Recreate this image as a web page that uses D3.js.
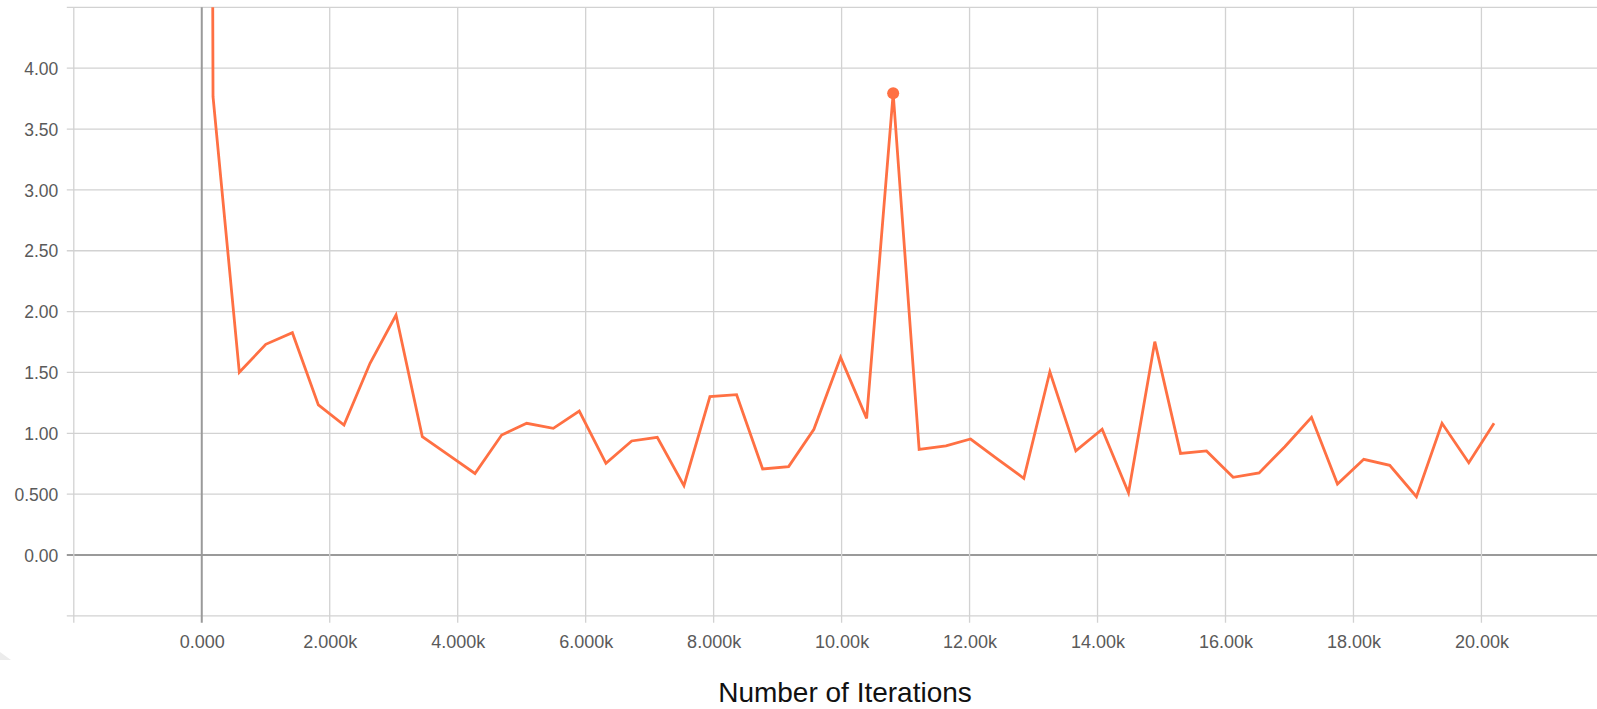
<!DOCTYPE html>
<html>
<head>
<meta charset="utf-8">
<script src="https://cdn.jsdelivr.net/npm/d3@7/dist/d3.min.js"></script>
<style>
  html, body { margin: 0; padding: 0; background: #fff; }
  svg { display: block; }
</style>
</head>
<body>
<svg id="chart" width="1597" height="709"></svg>
<script>
// ---- data ----
const steps = [150, 176, 587, 1000, 1416, 1822, 2223, 2630, 3036, 3447, 3860, 4270, 4687, 5078, 5494, 5900,
  6317, 6719, 7119, 7536, 7942, 8359, 8766, 9172, 9567, 9984, 10391, 10806, 11212, 11631, 12016, 12432,
  12848, 13255, 13661, 14072, 14484, 14895, 15297, 15703, 16119, 16525, 16927, 17344, 17750, 18161,
  18567, 18984, 19384, 19802, 20197];
const values = [8.0, 3.766, 1.501, 1.731, 1.827, 1.233, 1.068, 1.575, 1.972, 0.972, 0.82, 0.670, 0.986, 1.082, 1.041, 1.183,
  0.753, 0.937, 0.967, 0.570, 1.301, 1.317, 0.707, 0.726, 1.033, 1.624, 1.123, 3.794, 0.868, 0.897, 0.953, 0.79,
  0.630, 1.506, 0.855, 1.033, 0.512, 1.753, 0.835, 0.855, 0.638, 0.674, 0.890, 1.131, 0.583, 0.786,
  0.737, 0.479, 1.082, 0.758, 1.082];
const highlightStep = 10806;
const xTickValues = [-2000, 0, 2000, 4000, 6000, 8000, 10000, 12000, 14000, 16000, 18000, 20000, 22000];
const xTickLabels = ["", "0.000", "2.000k", "4.000k", "6.000k", "8.000k", "10.00k", "12.00k", "14.00k", "16.00k", "18.00k", "20.00k", ""];
const yTickValues = [-0.5, 0, 0.5, 1, 1.5, 2, 2.5, 3, 3.5, 4, 4.5];
const yTickLabels = ["", "0.00", "0.500", "1.00", "1.50", "2.00", "2.50", "3.00", "3.50", "4.00", ""];
const xTitle = "Number of Iterations";

// ---- layout ----
const svg = d3.select("#chart");
const pL = 73.8, pR = 1609.4, pT = 7.35, pB = 615.85;
const x = d3.scaleLinear().domain([-2000, 22000]).range([pL, pR]);
const y = d3.scaleLinear().domain([-0.5, 4.5]).range([pB, pT]);
const lineColor = "#ff7043";
const gridColor = "#d2d2d2";
const zeroColor = "#9a9a9a";
const font = "'Liberation Sans', Arial, Helvetica, sans-serif";

svg.append("rect").attr("width", 1597).attr("height", 709).attr("fill", "#fff");

// faint decoration bottom-left
svg.append("path").attr("d", "M0,652 L0,660 L11,660 Z").attr("fill", "#ececec");

// grid
const grid = svg.append("g");
grid.selectAll("line.h").data(yTickValues).join("line")
  .attr("x1", pL - 7).attr("x2", 1597)
  .attr("y1", d => y(d)).attr("y2", d => y(d))
  .attr("stroke", d => d === 0 ? zeroColor : gridColor)
  .attr("stroke-width", d => d === 0 ? 2 : 1.3);
grid.selectAll("line.v").data(xTickValues).join("line")
  .attr("x1", d => x(d)).attr("x2", d => x(d))
  .attr("y1", pT).attr("y2", pB + 7)
  .attr("stroke", d => d === 0 ? zeroColor : gridColor)
  .attr("stroke-width", d => d === 0 ? 2 : 1.3);

// axes labels via d3 axes
const xAxis = d3.axisBottom(x).tickValues(xTickValues)
  .tickFormat((d, i) => xTickLabels[i]).tickSize(0).tickPadding(0);
const gx = svg.append("g").attr("transform", `translate(0,${pB})`).call(xAxis);
gx.select(".domain").remove();
gx.selectAll("text").attr("y", 32).attr("dy", 0)
  .attr("font-family", font).attr("font-size", 18).attr("fill", "#5a5a5a");

const yAxis = d3.axisLeft(y).tickValues(yTickValues)
  .tickFormat((d, i) => yTickLabels[i]).tickSize(0).tickPadding(0);
const gy = svg.append("g").attr("transform", `translate(${pL},0)`).call(yAxis);
gy.select(".domain").remove();
gy.selectAll("text").attr("x", -15.5).attr("dy", "0.35em")
  .attr("font-family", font).attr("font-size", 17.5).attr("fill", "#5a5a5a");

// clip
svg.append("clipPath").attr("id", "plot-clip").append("rect")
  .attr("x", pL).attr("y", pT).attr("width", pR - pL).attr("height", pB - pT);

const data = steps.map((s, i) => ({ s, v: values[i] }));
const line = d3.line().x(d => x(d.s)).y(d => y(d.v));
svg.append("path").datum(data)
  .attr("clip-path", "url(#plot-clip)")
  .attr("d", line)
  .attr("fill", "none")
  .attr("stroke", lineColor)
  .attr("stroke-width", 2.8)
  .attr("stroke-linejoin", "miter")
  .attr("stroke-miterlimit", 4);

const hp = data.find(d => d.s === highlightStep);
svg.append("circle").attr("cx", x(hp.s)).attr("cy", y(hp.v)).attr("r", 6).attr("fill", lineColor);

// title
svg.append("text")
  .attr("x", 845).attr("y", 702)
  .attr("text-anchor", "middle")
  .attr("font-family", font).attr("font-size", 28).attr("fill", "#111")
  .text(xTitle);
</script>
</body>
</html>
